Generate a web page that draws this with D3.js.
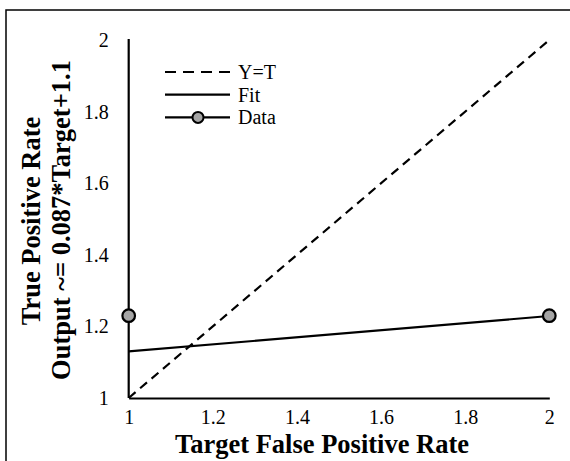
<!DOCTYPE html>
<html>
<head>
<meta charset="utf-8">
<script src="https://cdn.jsdelivr.net/npm/d3@7"></script>
<style>
  body { margin: 0; background: #fff; }
</style>
</head>
<body>
<svg width="570" height="461"></svg>
<script>
// chart values
const xTicks = [1, 1.2, 1.4, 1.6, 1.8, 2];
const yTicks = [1, 1.2, 1.4, 1.6, 1.8, 2];
const identityX = [1, 2];
const identityY = [1, 2];
const fitX = [1, 2];
const fitY = [1.13, 1.229];
const dataX = [1, 2];
const dataY = [1.23, 1.23];
const legendLabels = ['Y=T', 'Fit', 'Data'];

const FONT = "Liberation Serif, Times New Roman, Times, DejaVu Serif, serif";

const svg = d3.select('svg').attr('font-family', FONT);

// frame (only top/left visible, rest runs off the picture)
svg.append('rect')
   .attr('x', 6).attr('y', 10)
   .attr('width', 700).attr('height', 600)
   .attr('fill', 'none').attr('stroke', '#000').attr('stroke-width', 1.5);

const xScale = d3.scaleLinear().domain([1, 2]).range([128.7, 549.3]);
const yScale = d3.scaleLinear().domain([1, 2]).range([398, 40]);

// axes
const xAxis = d3.axisBottom(xScale).tickValues(xTicks).tickSize(0).tickPadding(12)
                .tickFormat(d3.format('~g'));
const yAxis = d3.axisLeft(yScale).tickValues(yTicks).tickSize(0).tickPadding(20)
                .tickFormat(d3.format('~g'));

const gx = svg.append('g').attr('transform', `translate(0,${yScale(1)})`).call(xAxis);
const gy = svg.append('g').attr('transform', `translate(${xScale(1)},0)`).call(yAxis);

[gx, gy].forEach(g => {
  g.attr('font-family', FONT).attr('font-size', 20);
  g.select('.domain').attr('stroke', '#000').attr('stroke-width', 2.2);
  g.selectAll('.tick text').attr('fill', '#000');
});
gy.select('.domain').attr('d', `M0,${yScale(1)}V${yScale(2) - 1}`);

// axis titles
svg.append('text')
   .text('Target False Positive Rate')
   .attr('x', 322).attr('y', 453)
   .attr('text-anchor', 'middle')
   .attr('font-size', 26.5).attr('font-weight', 'bold');

svg.append('text')
   .text('True Positive Rate')
   .attr('transform', 'translate(40,221) rotate(-90)')
   .attr('text-anchor', 'middle')
   .attr('font-size', 26.5).attr('font-weight', 'bold');

svg.append('text')
   .text('Output ~= 0.087*Target+1.1')
   .attr('transform', 'translate(70,220) rotate(-90)')
   .attr('text-anchor', 'middle')
   .attr('font-size', 26.5).attr('font-weight', 'bold');

const line = d3.line().x(d => xScale(d[0])).y(d => yScale(d[1]));

// Y=T
svg.append('path')
   .datum(d3.zip(identityX, identityY))
   .attr('d', line)
   .attr('fill', 'none').attr('stroke', '#000').attr('stroke-width', 2.2)
   .attr('stroke-dasharray', '9,6');

// Fit
svg.append('path')
   .datum(d3.zip(fitX, fitY))
   .attr('d', line)
   .attr('fill', 'none').attr('stroke', '#000').attr('stroke-width', 2.2);

// Data
svg.selectAll('circle.data')
   .data(d3.zip(dataX, dataY))
   .enter().append('circle')
   .attr('class', 'data')
   .attr('cx', d => xScale(d[0])).attr('cy', d => yScale(d[1]))
   .attr('r', 6.3)
   .attr('fill', '#a5a5a5').attr('stroke', '#000').attr('stroke-width', 2.2);

// legend
const legend = svg.append('g').attr('transform', 'translate(165,72)');
legendLabels.forEach((lab, i) => {
  const row = legend.append('g').attr('transform', `translate(0,${i * 22.7})`);
  const l = row.append('line')
     .attr('x1', 0).attr('x2', 65).attr('y1', 0).attr('y2', 0)
     .attr('stroke', '#000').attr('stroke-width', 2.2);
  if (i === 0) l.attr('stroke-dasharray', '11,7');
  if (i === 2) {
    row.append('circle').attr('cx', 33).attr('cy', 0).attr('r', 5.5)
       .attr('fill', '#a5a5a5').attr('stroke', '#000').attr('stroke-width', 2);
  }
  row.append('text').text(lab)
     .attr('x', 73).attr('y', 7)
     .attr('font-size', 20);
});
</script>
</body>
</html>
